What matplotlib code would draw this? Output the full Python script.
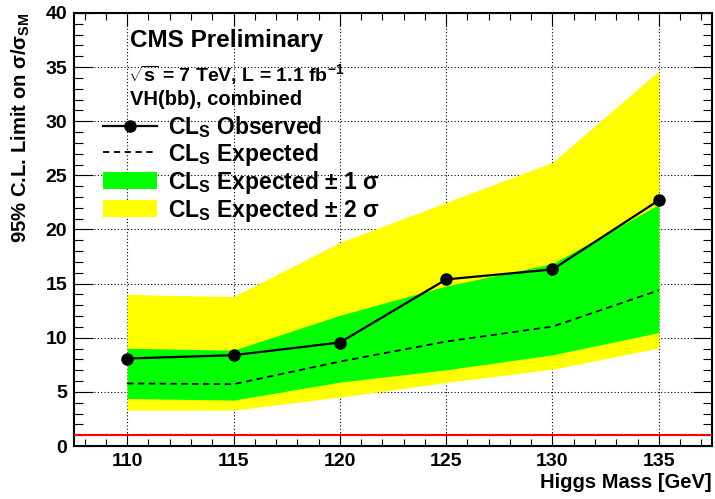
import matplotlib
matplotlib.use("Agg")
import matplotlib.pyplot as plt
from matplotlib.ticker import MultipleLocator
from matplotlib.lines import Line2D
from matplotlib.patches import Patch

plt.rcParams['font.family'] = ['Liberation Sans', 'DejaVu Sans']
plt.rcParams['font.weight'] = 'bold'
plt.rcParams['mathtext.fontset'] = 'custom'
plt.rcParams['mathtext.rm'] = 'Liberation Sans:bold'
plt.rcParams['mathtext.bf'] = 'Liberation Sans:bold'
plt.rcParams['mathtext.it'] = 'Liberation Sans:bold'
plt.rcParams['mathtext.default'] = 'bf'

# Higgs mass points and CLs limits on sigma/sigma_SM
masses = [110, 115, 120, 125, 130, 135]
observed = [8.08, 8.39, 9.56, 15.39, 16.31, 22.70]
expected = [5.78, 5.71, 7.80, 9.65, 11.03, 14.38]
band1_lo = [4.39, 4.24, 5.90, 7.04, 8.42, 10.48]
band1_hi = [9.03, 8.85, 12.07, 14.78, 16.84, 22.30]
band2_lo = [3.32, 3.32, 4.52, 5.87, 7.10, 9.06]
band2_hi = [14.00, 13.80, 18.80, 22.50, 26.20, 34.65]
sm_level = 1.0

x_ticks = [110, 115, 120, 125, 130, 135]
y_ticks = [0, 5, 10, 15, 20, 25, 30, 35, 40]

fig = plt.figure(figsize=(7.15, 4.99), dpi=100)
ax = fig.add_axes([0.1035, 0.1062, 0.8923, 0.8678])

ax.fill_between(masses, band2_lo, band2_hi, color='#ffff00', lw=0, zorder=2)
ax.fill_between(masses, band1_lo, band1_hi, color='#00ff00', lw=0, zorder=3)
ax.plot(masses, expected, color='black', lw=1.3, ls=(0, (3.5, 2.5)), zorder=4)
ax.plot(masses, observed, color='black', lw=1.6, marker='o', ms=8, zorder=5)
ax.axhline(sm_level, color='#ff0000', lw=1.5, zorder=4)

ax.set_xlim(107.5, 137.5)
ax.set_ylim(0, 40)
ax.set_xticks(x_ticks)
ax.set_yticks(y_ticks)
ax.xaxis.set_minor_locator(MultipleLocator(1))
ax.yaxis.set_minor_locator(MultipleLocator(1))
ax.grid(True, which='major', color='black', lw=0.8, ls=(0, (1, 2)), zorder=1)
ax.set_axisbelow(True)

ax.tick_params(which='both', direction='in', top=True, right=True,
               labelsize=14, width=0.8, pad=5)
ax.tick_params(axis='x', which='major', length=9.4)
ax.tick_params(axis='x', which='minor', length=4.7)
ax.tick_params(axis='y', which='major', length=13.7)
ax.tick_params(axis='y', which='minor', length=6.8)
for s in ax.spines.values():
    s.set_linewidth(1.5)

ax.set_xlabel('Higgs Mass [GeV]', fontsize=14.5, fontweight='bold', loc='right')
ax.xaxis.set_label_coords(1.0, -0.062)
ax.set_ylabel(r'95% C.L. Limit on σ/σ$_{SM}$', fontsize=14.6, fontweight='bold', loc='top')
ax.yaxis.set_label_coords(-0.066, 1.0)

ax.text(0.0878, 0.922, 'CMS Preliminary', transform=ax.transAxes,
        fontsize=17.5, fontweight='bold', va='baseline')
ax.text(0.084, 0.843, r'$\sqrt{s}$ = 7 TeV, L = 1.1 fb$^{-1}$', transform=ax.transAxes,
        fontsize=14, fontweight='bold', va='baseline')
ax.text(0.0878, 0.7875, 'VH(bb), combined', transform=ax.transAxes,
        fontsize=14.5, fontweight='bold', va='baseline')

handles = [
    Line2D([], [], color='black', lw=1.6, marker='o', ms=8),
    Line2D([], [], color='black', lw=1.3, ls=(0, (3.5, 2.5))),
    Patch(facecolor='#00ff00', edgecolor='none'),
    Patch(facecolor='#ffff00', edgecolor='none'),
]
labels = [r'CL$_{S}$ Observed', r'CL$_{S}$ Expected',
          r'CL$_{S}$ Expected ± 1 σ', r'CL$_{S}$ Expected ± 2 σ']
ax.legend(handles, labels, loc='upper left', bbox_to_anchor=(0.0455, 0.767),
          frameon=False, fontsize=16.5, handlelength=2.36, handleheight=0.79,
          handletextpad=0.48, labelspacing=0.04, borderaxespad=0, borderpad=0)

fig.savefig('out.png', dpi=100)
